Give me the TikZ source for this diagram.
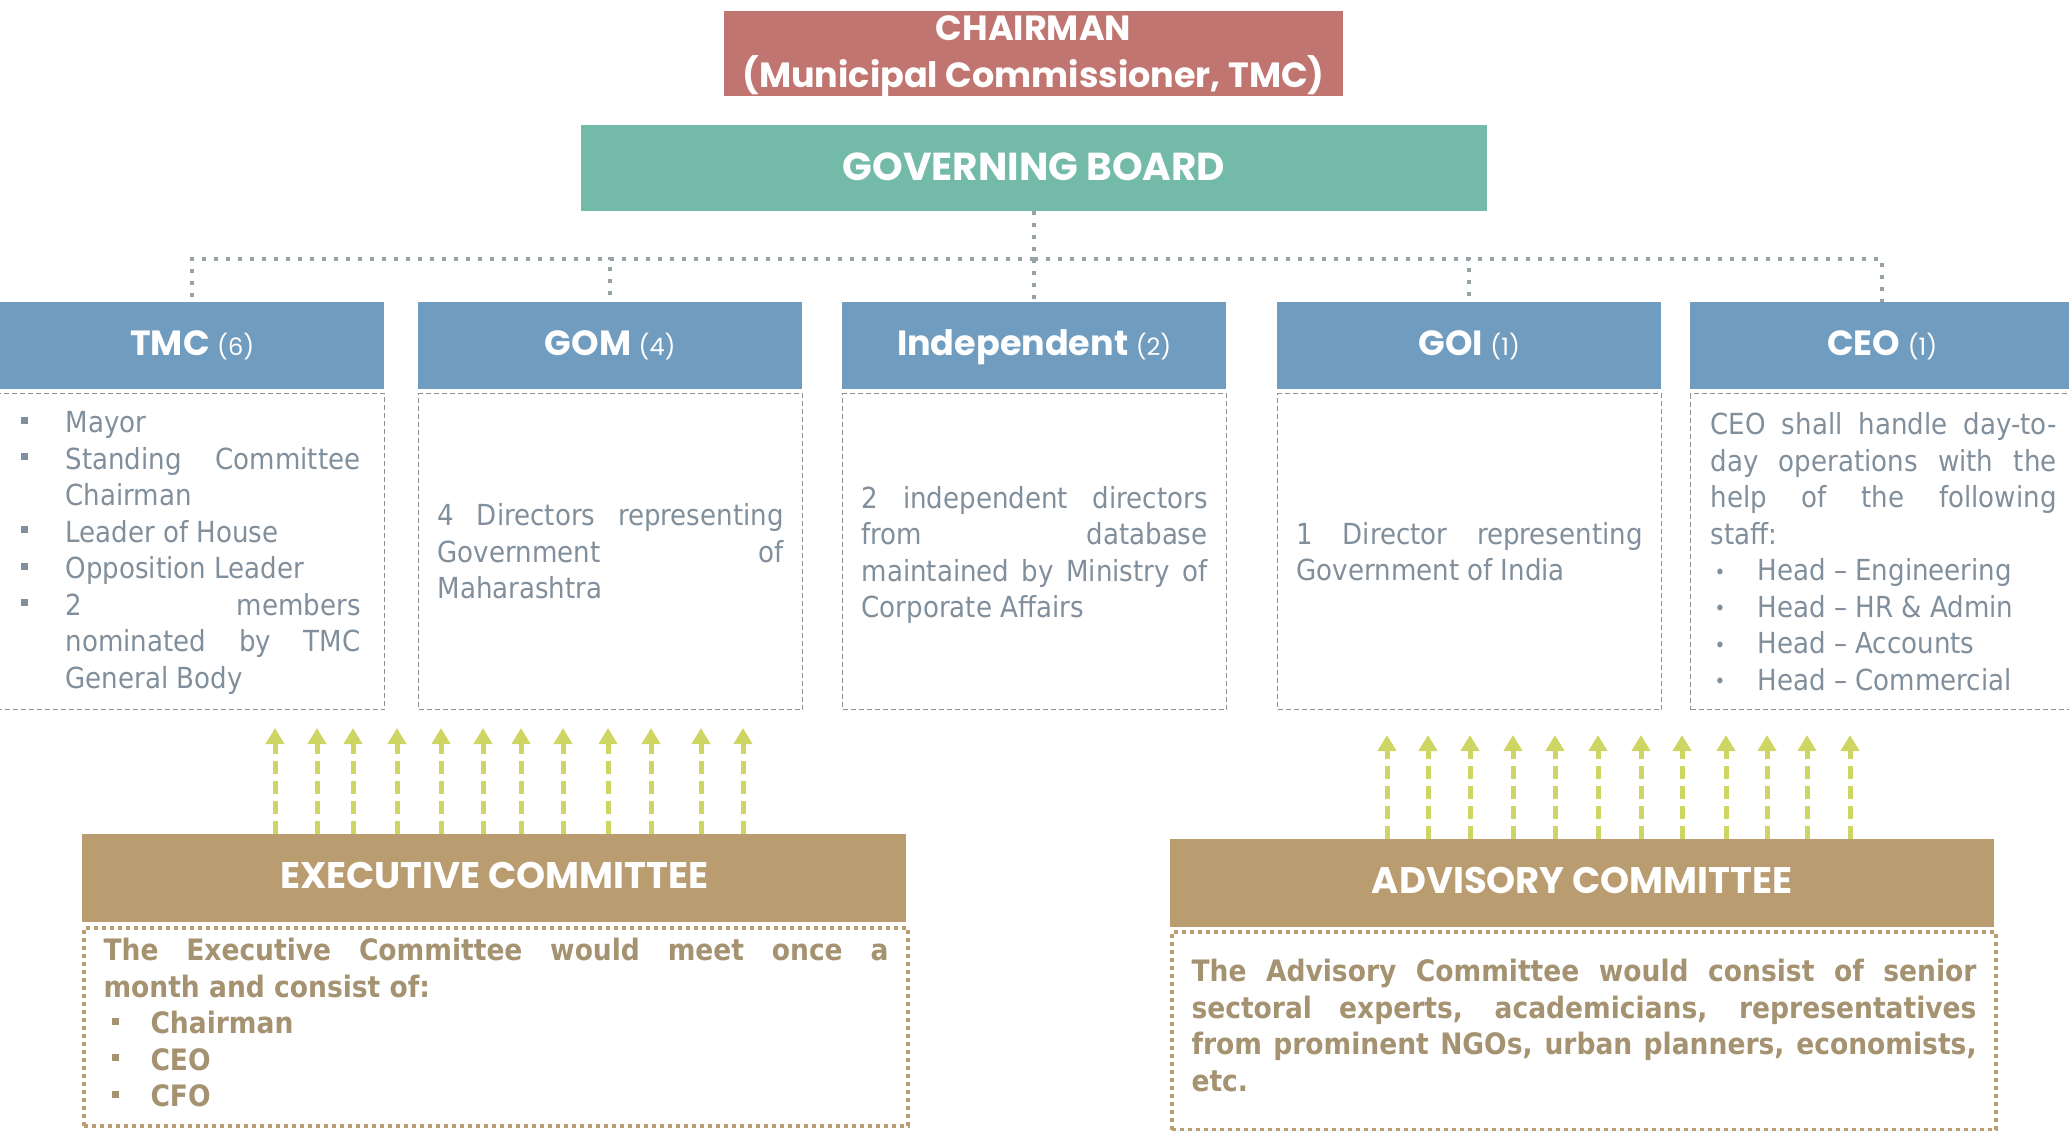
\documentclass[tikz,border=0pt]{standalone}
\usepackage{fontspec}
\setmainfont{DejaVuSansCondensed.ttf}[BoldFont=DejaVuSansCondensed-Bold.ttf]
\newfontfamily\headfont{Poppins}
\usetikzlibrary{arrows.meta}

\definecolor{chairred}{RGB}{193,117,113}
\definecolor{boardteal}{RGB}{115,187,168}
\definecolor{headblue}{RGB}{111,156,191}
\definecolor{combrown}{RGB}{185,156,112}
\definecolor{arrowlime}{RGB}{206,213,98}
\definecolor{bodygray}{RGB}{128,143,155}
\definecolor{bodybrown}{RGB}{164,146,112}
\definecolor{linegray}{RGB}{135,145,152}
\definecolor{dotgray}{RGB}{150,163,166}

\setlength{\parindent}{0pt}
\hyphenpenalty=10000
\tolerance=10000
\hbadness=10000

\newcommand{\sqbul}{\raisebox{0.3em}{\rule{0.24em}{0.24em}}}
\newcommand{\rdbul}{\raisebox{0.05em}{\scalebox{0.7}{•}}}
\newcommand{\listrow}[3]{\par\hangindent=#1\hangafter=1\makebox[#1][l]{#2}#3\par}
\newcommand{\seatcount}[1]{{\mdseries\fontsize{24}{24}\selectfont#1}}

\begin{document}
\begin{tikzpicture}[x=1pt, y=-1pt,
  titlebox/.style={text=white, inner sep=0pt, align=center, text height=24pt, text depth=4pt, font=\headfont\bfseries\fontsize{35}{47}\selectfont},
  headbox/.style={titlebox, fill=headblue, minimum width=384pt, minimum height=87pt, anchor=north west},
  infobox/.style={draw=linegray, line width=1.3pt, dash pattern=on 5pt off 3pt, minimum width=384pt, minimum height=316pt, anchor=north west, text width=346pt, align=justify, inner sep=0pt, text=bodygray, font=\fontsize{29}{36.5}\selectfont},
  combox/.style={titlebox, fill=combrown, minimum width=824pt, minimum height=88pt, anchor=north west, font=\headfont\bfseries\fontsize{37}{45}\selectfont},
  notebox/.style={draw=combrown, line width=4pt, dash pattern=on 4pt off 4pt, minimum width=824pt, minimum height=198pt, anchor=north west, text width=785pt, align=justify, inner sep=0pt, text=bodybrown, font=\bfseries\fontsize{29.5}{36.5}\selectfont},
  tree/.style={draw=dotgray, line width=4pt, dash pattern=on 4pt off 8pt},
  upar/.style={draw=arrowlime, line width=5pt, dash pattern=on 13pt off 7pt, -{Triangle[width=18pt,length=16pt]}}]
\useasboundingbox (0,0) rectangle (2069,1131);
\node[titlebox, fill=chairred, minimum width=619pt, minimum height=85pt, text height=71pt, text depth=2pt] (chair) at (1033.5,53.5) {CHAIRMAN\\(Municipal Commissioner, TMC)};
\node[titlebox, fill=boardteal, minimum width=906pt, minimum height=86pt, text height=30pt, font=\headfont\bfseries\fontsize{39}{45}\selectfont] (board) at (1034,168) {GOVERNING BOARD};

\node[headbox] (tmc) at (0,302) {TMC \seatcount{(6)}};
\node[headbox] (gom) at (418,302) {GOM \seatcount{(4)}};
\node[headbox] (ind) at (842,302) {Independent \seatcount{(2)}};
\node[headbox] (goi) at (1277,302) {GOI \seatcount{(1)}};
\node[headbox] (ceo) at (1690,302) {CEO \seatcount{(1)}};

\node[infobox, minimum width=388pt, text width=340pt] (tmcinfo) at (-4,393) {%
\listrow{45pt}{\sqbul}{Mayor}
\listrow{45pt}{\sqbul}{Standing Committee\linebreak Chairman}
\listrow{45pt}{\sqbul}{Leader of House}
\listrow{45pt}{\sqbul}{Opposition Leader}
\listrow{45pt}{\sqbul}{2 members\linebreak nominated by TMC\linebreak General Body}
\vspace*{13pt}};
\node[infobox] (gominfo) at (418,393) {4 Directors representing\linebreak Government of\linebreak Maharashtra};
\node[infobox] (indinfo) at (842,393) {2 independent directors\linebreak from database\linebreak maintained by Ministry of\linebreak Corporate Affairs\par\vspace*{-7pt}};
\node[infobox] (goiinfo) at (1277,393) {1 Director representing\linebreak Government of India};
\node[infobox, minimum width=386pt] (ceoinfo) at (1690,393) {CEO shall handle day-to-\linebreak day operations with the\linebreak help of the following\linebreak staff:
\listrow{47pt}{\hspace{4pt}\rdbul}{Head – Engineering}
\listrow{47pt}{\hspace{4pt}\rdbul}{Head – HR \& Admin}
\listrow{47pt}{\hspace{4pt}\rdbul}{Head – Accounts}
\listrow{47pt}{\hspace{4pt}\rdbul}{Head – Commercial}};

\node[combox] (exec) at (82,834) {EXECUTIVE COMMITTEE};
\node[notebox] (execinfo) at (82,926) {The Executive Committee would meet once a\linebreak month and consist of:
\listrow{47pt}{\hspace{8pt}\sqbul}{Chairman}
\listrow{47pt}{\hspace{8pt}\sqbul}{CEO}
\listrow{47pt}{\hspace{8pt}\sqbul}{CFO}
\vspace*{9pt}};
\node[combox] (adv) at (1170,839) {ADVISORY COMMITTEE};
\node[notebox] (advinfo) at (1170,930) {The Advisory Committee would consist of senior\linebreak sectoral experts, academicians, representatives\linebreak from prominent NGOs, urban planners, economists,\linebreak etc.\par\vspace*{11pt}};

\coordinate (bus) at (1034,259);
\draw[tree] (board.south) -- (bus);
\foreach \n in {tmc,gom,ind,goi,ceo}
  \draw[tree] (bus) -| (\n.north);

\foreach \x in {275,317,353,397,441,483,521,563,608,651,701,743} {
  \coordinate (tip\x) at (\x,728);
  \draw[upar] (exec.north -| tip\x) -- (tip\x);
}
\foreach \x in {1387,1428,1470,1513,1555,1598,1641,1682,1726,1767,1807,1850} {
  \coordinate (tip\x) at (\x,735);
  \draw[upar] (adv.north -| tip\x) -- (tip\x);
}
\end{tikzpicture}
\end{document}
